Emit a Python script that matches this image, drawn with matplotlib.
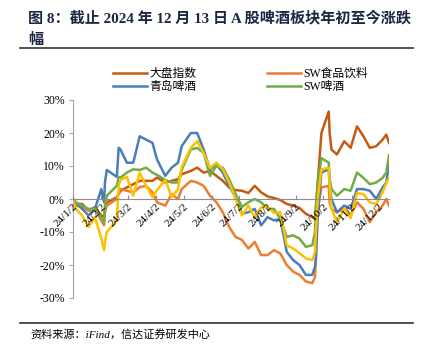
import matplotlib
matplotlib.use("Agg")
import matplotlib.pyplot as plt
import numpy as np
import pandas as pd

plt.rcParams['font.family'] = ['Liberation Serif', 'Noto Sans CJK SC', 'DejaVu Sans']

# 日期（约每周一个点，节假日与 9-10 月行情处加密）
dates = pd.to_datetime([
    "2024-01-02", "2024-01-05", "2024-01-12", "2024-01-19", "2024-01-26",
    "2024-02-02", "2024-02-05", "2024-02-06", "2024-02-08", "2024-02-19",
    "2024-02-21", "2024-02-23", "2024-03-01", "2024-03-08", "2024-03-15",
    "2024-03-22", "2024-03-29", "2024-04-03", "2024-04-12", "2024-04-19",
    "2024-04-26", "2024-04-30", "2024-05-10", "2024-05-17", "2024-05-24",
    "2024-05-31", "2024-06-07", "2024-06-14", "2024-06-21", "2024-06-28",
    "2024-07-05", "2024-07-12", "2024-07-19", "2024-07-26", "2024-08-02",
    "2024-08-09", "2024-08-16", "2024-08-23", "2024-08-30", "2024-09-06",
    "2024-09-13", "2024-09-20", "2024-09-23", "2024-09-24", "2024-09-26",
    "2024-09-30", "2024-10-08", "2024-10-09", "2024-10-11", "2024-10-17",
    "2024-10-25", "2024-11-01", "2024-11-08", "2024-11-15", "2024-11-22",
    "2024-11-29", "2024-12-06", "2024-12-10", "2024-12-13",
])

# 年初至今涨跌幅（%）
market = [0, -1.5, -1.5, -3.5, -2.5, -5, -5.5, -3.5, -1, 0.5,
          1.5, 2.5, 3.5, 4.5, 5.5, 5.5, 5.5, 6.5, 5, 5.5,
          6, 7.5, 8.5, 9.5, 8, 8.5, 7, 5.5, 3.5, 2.7,
          2.5, 1.8, 4, 2, 0.8, 0.3, -0.3, -1.5, -2, -2.7,
          -4.5, -5.5, -6, -2, 5, 20, 26.5, 20, 15, 13.5,
          17.5, 15.5, 22, 19, 15.5, 16, 18, 19.5, 17]
food_bev = [0, -2, -2.5, -3.5, -3, -6.5, -8, -4, -2, 0,
            2, 3, 2.5, 2, 3.6, 4, 2, -1, -2, 1.5,
            0, 3, 5.5, 5, 4, 1, -1, -4, -8.5, -11.5,
            -12.4, -15, -13, -17, -17, -15.5, -16.5, -20, -22, -23,
            -25, -25.5, -23.6, -17, -3, 3.5, 4, -1, -3, -4,
            -3, -5, -1, -3, -7, -4, -2, 0, -2]
tsingtao = [0, -1, -3, -5, -3, 3, -1, 5, 8.8, 6.7,
            15.5, 15, 11, 11, 19, 18, 17, 12, 7, 9.5,
            11, 16, 20, 20, 15, 9, 10.5, 8, 4, 0.5,
            -4.5, -4, -3, -8, -5.5, -6.5, -6, -16, -18.5, -20,
            -23, -23, -20.5, -18, -5, 8, 9, 4, 0, -4,
            -2, -3, 3, 3, 2.5, 0, 3.5, 5, 10.5]
sw_beer = [0, -1, -2, -3, -3, -6, -7, -2, 1, 4,
           6.7, 6.5, 8, 9, 8.8, 9.5, 8, 7.3, 5.8, 5,
           5, 8.8, 15, 15.5, 14, 7, 10, 9.5, 6, 1.5,
           -2.4, -1, 0, -1, -3, -3, -6, -11.5, -11, -12,
           -14.5, -14, -10, -3, 5, 12.4, 11, 6, 3, 1,
           3, 2.5, 8, 6.4, 4.5, 5, 6.4, 8, 13.3]
# 图中无图例的黄色曲线
other = [0, -3, -5, -8.5, -5.5, -12, -15.5, -13, -10, -6.5,
         4, 5.8, 6.7, 1, 8, 4, 0.6, 2.7, 5.8, 0.6,
         3, 9.7, 15.5, 17.5, 14, 9.4, 11, 9, 5, 0,
         -5, -2, -5.5, -2.5, -2.4, -4.2, -4, -14, -15, -16.4,
         -18, -18.5, -16, -10, 0, 9, 9.5, 4, -3, -7,
         -3, -5.8, 1.8, 1.5, -1, -1.5, 2, 4.8, 6.4]

series = [
    ("大盘指数", market, "#C55A11"),
    ("SW食品饮料", food_bev, "#ED7D31"),
    ("青岛啤酒", tsingtao, "#4A7EBB"),
    ("SW啤酒", sw_beer, "#70AD47"),
    (None, other, "#FFC000"),
]

fig = plt.figure(figsize=(4.24, 3.52), dpi=100)
ax = fig.add_axes([73 / 424, 1 - 298 / 352, (389 - 73) / 424, (298 - 100) / 352])

lines = {}
for name, vals, color in series:
    ln, = ax.plot(dates, vals, color=color, lw=1.8, label=name)
    if name:
        lines[name] = ln

ax.set_ylim(-30, 30)
ax.set_xlim(dates[0], dates[-1])
ax.set_yticks(np.arange(-30, 31, 10))
ax.set_yticklabels([f"{v}%" for v in range(-30, 31, 10)])

tick_dates = pd.to_datetime([f"2024-{m:02d}-02" for m in range(1, 13)])
ax.set_xticks(tick_dates)
ax.set_xticklabels([f"24/{m}/2" for m in range(1, 13)])

ax.spines["top"].set_visible(False)
ax.spines["right"].set_visible(False)
ax.spines["bottom"].set_position(("data", 0))
ax.spines["bottom"].set_color("#8c8c8c")
ax.spines["left"].set_color("#a6a6a6")
ax.tick_params(axis="y", direction="out", length=3, color="#a6a6a6",
               labelsize=8.5, pad=3)
ax.tick_params(axis="x", direction="in", length=3, color="#8c8c8c",
               labelsize=8, pad=2)
# 日期标签旋转 45°，右端对齐刻度
for lbl in ax.get_xticklabels():
    lbl.set_rotation(45)
    lbl.set_ha("right")
    lbl.set_va("top")
    lbl.set_rotation_mode("anchor")
ax.set_axisbelow(False)

order = ["大盘指数", "青岛啤酒", "SW食品饮料", "SW啤酒"]
fig.legend([lines[k] for k in order], order, ncol=2, frameon=False,
           loc="upper left", bbox_to_anchor=(108 / 424, 1 - 63 / 352),
           fontsize=8.5, handlelength=2.9, columnspacing=6.0,
           handletextpad=0.2, labelspacing=0.15, borderaxespad=0)

# 标题与来源
title_color = "#1c2744"
fig.text(28 / 424, 1 - 18 / 352, "图 8：截止 2024 年 12 月 13 日 A 股啤酒板块年初至今涨跌",
         fontsize=10.9, fontweight="bold", color=title_color, va="center")
fig.text(28 / 424, 1 - 40 / 352, "幅", fontsize=10.9, fontweight="bold",
         color=title_color, va="center")
fig.add_artist(plt.Line2D([20 / 424, 413 / 424], [1 - 48 / 352] * 2,
                          color="#333333", lw=1.2))
fig.add_artist(plt.Line2D([20 / 424, 413 / 424], [1 - 323 / 352] * 2,
                          color="#333333", lw=1.2))
fig.text(30 / 424, 1 - 334 / 352, "资料来源：iFind，信达证券研发中心",
         fontsize=8, style="italic", va="center")

fig.savefig("out.png", dpi=100)
